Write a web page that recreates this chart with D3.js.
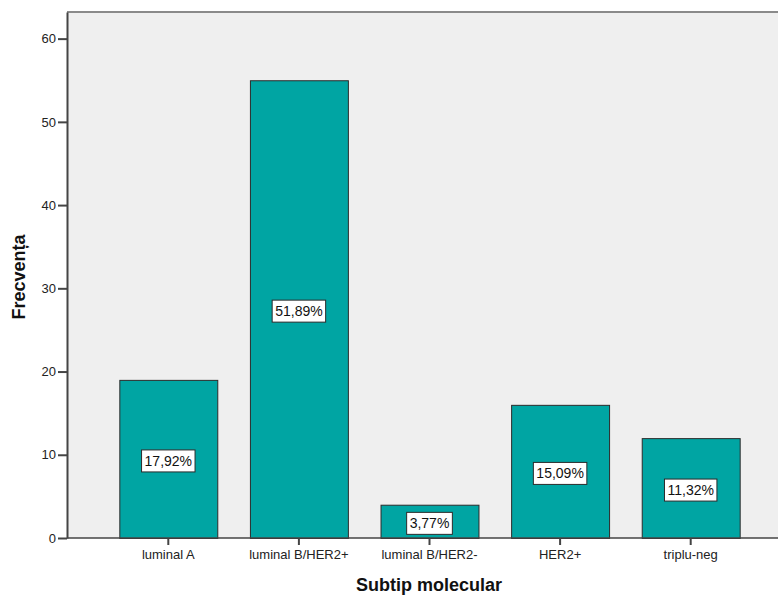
<!DOCTYPE html>
<html>
<head>
<meta charset="utf-8">
<script src="https://cdn.jsdelivr.net/npm/d3@7"></script>
<style>
  body { margin: 0; background: #fff; }
  .axis text { font-family: Arial, "Liberation Sans", sans-serif; font-size: 13px; fill: #222; }
  .axis path, .axis line { stroke: #444; }
  .title { font-family: Arial, "Liberation Sans", sans-serif; font-size: 18px; font-weight: bold; fill: #111; }
  .pct { font-family: Arial, "Liberation Sans", sans-serif; font-size: 14px; fill: #111; }
</style>
</head>
<body>
<div id="chart"></div>
<script>
// Data
const categories = ['luminal A', 'luminal B/HER2+', 'luminal B/HER2-', 'HER2+', 'triplu-neg']
const counts = [19, 55, 4, 16, 12]
const percentLabels = ['17,92%', '51,89%', '3,77%', '15,09%', '11,32%']
const yTicks = [0, 10, 20, 30, 40, 50, 60]

const width = 778
const height = 595
const plot = { left: 67, top: 12, bottom: 538 }

const svg = d3.select('#chart')
  .append('svg')
  .attr('width', width)
  .attr('height', height)

// Scales
const x = d3.scaleBand()
  .domain(categories)
  .range([103, 756])
  .paddingInner(0.25)
  .paddingOuter(0.125)

const y = d3.scaleLinear()
  .domain([0, 63.2])
  .range([plot.bottom, plot.top])

// Plot background (runs off the right edge like the original)
svg.append('rect')
  .attr('x', plot.left)
  .attr('y', plot.top)
  .attr('width', width - plot.left + 10)
  .attr('height', plot.bottom - plot.top)
  .attr('fill', '#efefef')

// Top frame line
svg.append('line')
  .attr('x1', plot.left)
  .attr('x2', width)
  .attr('y1', plot.top)
  .attr('y2', plot.top)
  .attr('stroke', '#8a8a8a')
  .attr('stroke-width', 2)

// Bars
svg.selectAll('.bar')
  .data(counts)
  .enter()
  .append('rect')
  .attr('class', 'bar')
  .attr('x', (d, i) => x(categories[i]) + 0.5)
  .attr('y', d => y(d) + 0.5)
  .attr('width', x.bandwidth())
  .attr('height', d => y(0) - y(d))
  .attr('fill', '#00a5a3')
  .attr('stroke', '#2b2b2b')
  .attr('stroke-width', 1)

// Y axis
svg.append('g')
  .attr('class', 'axis')
  .attr('transform', `translate(${plot.left}, 0)`)
  .call(d3.axisLeft(y).tickValues(yTicks).tickSize(9).tickPadding(2).tickSizeOuter(0))
  .call(g => g.select('.domain').attr('stroke-width', 2))
  .call(g => g.selectAll('.tick line').attr('stroke-width', 2))

// X axis
svg.append('g')
  .attr('class', 'axis')
  .attr('transform', `translate(0, ${plot.bottom})`)
  .call(d3.axisBottom(x).tickSize(7).tickPadding(5).tickSizeOuter(0))
  .call(g => g.select('.domain').attr('d', `M${plot.left},0H${width}`).attr('stroke-width', 1.5))
  .call(g => g.selectAll('.tick line').attr('stroke-width', 2))

// Percentage labels in white boxes
const labels = svg.selectAll('.lbl')
  .data(counts)
  .enter()
  .append('g')
  .attr('class', 'lbl')
  .attr('transform', (d, i) => `translate(${x(categories[i]) + x.bandwidth() / 2}, ${(y(d) + y(0)) / 2 + 2})`)

labels.append('text')
  .attr('class', 'pct')
  .attr('text-anchor', 'middle')
  .attr('dy', '0.35em')
  .text((d, i) => percentLabels[i])

labels.each(function () {
  const g = d3.select(this)
  const bb = g.select('text').node().getBBox()
  g.insert('rect', 'text')
    .attr('x', bb.x - 3)
    .attr('y', -11)
    .attr('width', bb.width + 6)
    .attr('height', 22)
    .attr('fill', '#fff')
    .attr('stroke', '#2b2b2b')
    .attr('stroke-width', 1)
})

// Axis titles
svg.append('text')
  .attr('class', 'title')
  .attr('text-anchor', 'middle')
  .attr('x', 429)
  .attr('y', 591)
  .text('Subtip molecular')

svg.append('text')
  .attr('class', 'title')
  .attr('text-anchor', 'middle')
  .attr('transform', `translate(25, ${(plot.top + plot.bottom) / 2 + 2}) rotate(-90)`)
  .text('Frecvența')
</script>
</body>
</html>
